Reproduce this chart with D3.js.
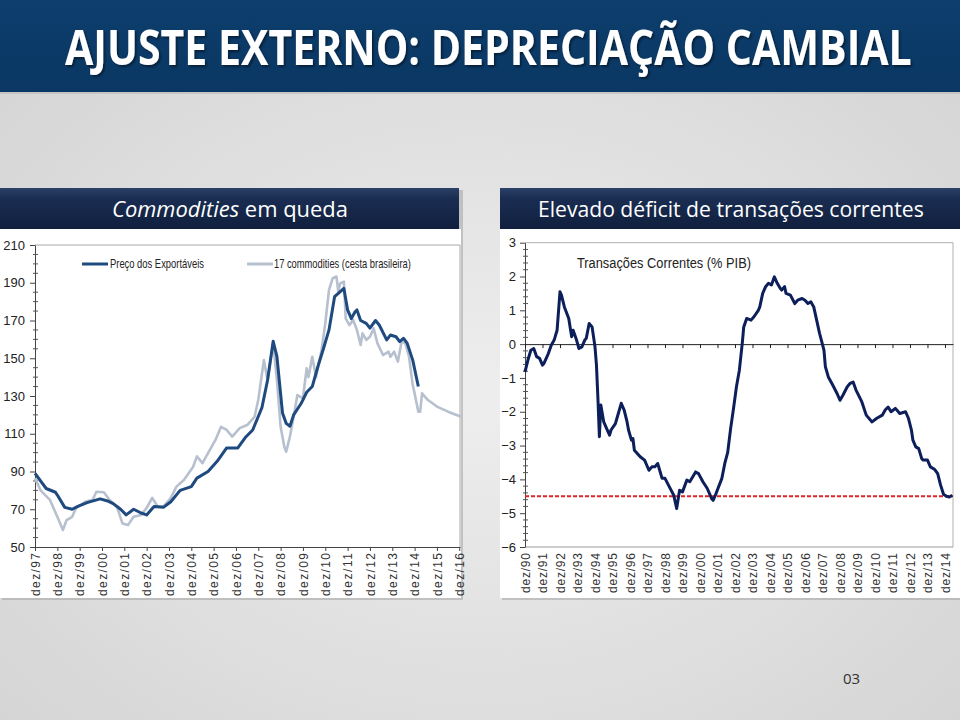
<!DOCTYPE html>
<html><head><meta charset="utf-8">
<script src="https://cdn.jsdelivr.net/npm/d3@7"></script>
<style>html,body{margin:0;padding:0;background:#dcdcdc;overflow:hidden}</style>
</head><body><svg id="c" width="960" height="720"></svg>
<script>
// ---------------- DATA ----------------
const slideTitle = "AJUSTE EXTERNO: DEPRECIAÇÃO CAMBIAL";
const pageNumber = "03";

// Left chart: Commodities em queda
const leftYTicks = [50, 70, 90, 110, 130, 150, 170, 190, 210];
const leftYearLabels = ["dez/97","dez/98","dez/99","dez/00","dez/01","dez/02","dez/03","dez/04","dez/05","dez/06",
  "dez/07","dez/08","dez/09","dez/10","dez/11","dez/12","dez/13","dez/14","dez/15","dez/16"];
const seriesNames = ["Preço dos Exportáveis", "17 commodities (cesta brasileira)"];

const exportDates = ["1997-12","1998-06","1998-11","1998-12","1999-04","1999-08","1999-11","2000-04","2000-11","2001-03",
  "2001-06","2001-10","2002-01","2002-05","2002-09","2002-12","2003-04","2003-09","2004-01","2004-06",
  "2004-12","2005-03","2005-09","2006-02","2006-07","2007-01","2007-05","2007-09","2008-02","2008-05",
  "2008-08","2008-10","2009-01","2009-03","2009-05","2009-07","2009-11","2010-02","2010-05","2010-08",
  "2010-11","2011-02","2011-05","2011-07","2011-10","2011-12","2012-02","2012-04","2012-05","2012-07",
  "2012-10","2012-12","2013-03","2013-05","2013-09","2013-11","2014-02","2014-04","2014-06","2014-08",
  "2014-11","2015-02"];
const exportValues = [89,81,79,77.5,71,70,71.5,73.5,75.5,74.4,
  73,70,67,70,68,67,71.5,71,74,80,
  82,86.5,90,95.5,102.5,102.5,108,112,124,138.5,
  159,151,121,115.5,114,120,126,132,135,145.5,
  155,165,182.6,184.4,187,175.6,171,174.6,175.6,170,
  168.5,166,170,167.6,159.7,162.3,161.4,158.8,160.6,158,
  149,135];

const commodDates = ["1997-12","1998-03","1998-08","1998-12","1999-03","1999-05","1999-08","1999-10","2000-03","2000-07",
  "2000-09","2001-01","2001-04","2001-08","2001-11","2002-02","2002-05","2002-09","2002-12","2003-03",
  "2003-06","2003-09","2004-01","2004-04","2004-08","2005-01","2005-03","2005-06","2005-09","2006-01",
  "2006-04","2006-07","2006-10","2007-02","2007-06","2007-10","2007-12","2008-03","2008-05","2008-08",
  "2008-10","2008-12","2009-02","2009-03","2009-05","2009-07","2009-09","2009-12","2010-02","2010-03",
  "2010-05","2010-07","2010-10","2010-12","2011-02","2011-04","2011-06","2011-07","2011-08","2011-10",
  "2011-11","2012-01","2012-03","2012-05","2012-07","2012-08","2012-10","2012-12","2013-02","2013-04",
  "2013-07","2013-10","2013-11","2014-01","2014-03","2014-05","2014-07","2014-09","2014-11","2014-12",
  "2015-02","2015-03","2015-04","2015-07","2015-12","2016-06","2017-01"];
const commodValues = [86.5,80,75,66,59,64.3,66,70.5,74,75,
  79.3,79,75,71.4,62.5,61.6,66,67,70.7,76,
  71.4,71.4,76,82,85.5,92.5,98,94.4,99.7,106.7,
  113.7,112,108.5,113,114.6,119,128,149,138.5,158,
  138.5,113.7,103,100.5,108.5,119,130.5,128.8,144.7,140,
  150.8,140,154.4,168.5,186.2,192.4,193.3,185.3,189.7,190.6,
  171,167.6,170.3,165,157,163.2,159.7,161.4,165.8,158,
  151.7,153.5,150.8,153.5,148.2,158.8,158,150.8,135.8,131.4,
  121.7,121.7,131.4,128,124.4,121.7,119];

// Right chart: Transações Correntes (% PIB)
const rightYTicks = [-6,-5,-4,-3,-2,-1,0,1,2,3];
const rightYearLabels = ["dez/90","dez/91","dez/92","dez/93","dez/94","dez/95","dez/96","dez/97","dez/98","dez/99",
  "dez/00","dez/01","dez/02","dez/03","dez/04","dez/05","dez/06","dez/07","dez/08","dez/09",
  "dez/10","dez/11","dez/12","dez/13","dez/14"];
const tcLabel = "Transações Correntes (% PIB)";
const tcReference = -4.5;
const tcDates = ["1990-12","1991-02","1991-04","1991-06","1991-08","1991-10","1991-12","1992-01","1992-04","1992-06",
  "1992-08","1992-10","1992-12","1993-01","1993-03","1993-06","1993-08","1993-09","1993-11","1994-01",
  "1994-03","1994-05","1994-06","1994-08","1994-10","1994-12","1995-01","1995-02","1995-03","1995-04",
  "1995-06","1995-08","1995-10","1995-11","1996-02","1996-03","1996-06","1996-08","1996-10","1996-11",
  "1997-01","1997-02","1997-03","1997-07","1997-10","1997-11","1998-01","1998-03","1998-05","1998-07",
  "1998-10","1998-12","1999-03","1999-06","1999-08","1999-10","1999-12","2000-03","2000-05","2000-09",
  "2000-11","2001-02","2001-05","2001-08","2001-09","2001-11","2002-03","2002-05","2002-07","2002-09",
  "2002-11","2003-01","2003-03","2003-05","2003-06","2003-08","2003-11","2004-01","2004-04","2004-05",
  "2004-07","2004-09","2004-11","2005-01","2005-03","2005-05","2005-07","2005-08","2005-10","2005-11",
  "2006-02","2006-05","2006-07","2006-10","2006-12","2007-02","2007-04","2007-06","2007-08","2007-10",
  "2008-01","2008-02","2008-04","2008-07","2008-10","2008-12","2009-02","2009-05","2009-07","2009-09",
  "2009-11","2010-03","2010-06","2010-10","2011-01","2011-05","2011-07","2011-09","2011-11","2012-02",
  "2012-05","2012-09","2012-11","2013-01","2013-02","2013-04","2013-06","2013-08","2013-09","2013-12",
  "2014-02","2014-05","2014-07","2014-09","2014-11","2015-01","2015-03","2015-05"];
const tcValues = [-0.82,-0.47,-0.18,-0.13,-0.37,-0.42,-0.62,-0.57,-0.28,-0.03,
  0.12,0.41,1.55,1.45,1.1,0.76,0.22,0.41,0.17,-0.13,
  -0.08,0.12,0.17,0.61,0.51,-0.08,-0.62,-1.6,-2.74,-1.8,
  -2.3,-2.5,-2.69,-2.54,-2.35,-2.2,-1.75,-1.95,-2.3,-2.54,
  -2.84,-2.79,-3.14,-3.33,-3.43,-3.53,-3.73,-3.63,-3.63,-3.53,
  -3.97,-3.97,-4.22,-4.47,-4.86,-4.32,-4.37,-4.02,-4.07,-3.78,
  -3.83,-4.07,-4.27,-4.57,-4.62,-4.42,-3.97,-3.53,-3.2,-2.5,
  -1.9,-1.26,-0.77,0.03,0.51,0.76,0.71,0.81,1.0,1.1,
  1.5,1.7,1.8,1.75,1.99,1.8,1.65,1.6,1.7,1.5,
  1.45,1.2,1.3,1.35,1.3,1.2,1.25,1.1,0.71,0.32,
  -0.18,-0.67,-0.97,-1.21,-1.46,-1.66,-1.51,-1.26,-1.16,-1.12,
  -1.36,-1.71,-2.1,-2.3,-2.2,-2.1,-1.95,-1.86,-2.0,-1.9,
  -2.05,-2.0,-2.2,-2.54,-2.84,-3.04,-3.09,-3.38,-3.43,-3.43,
  -3.63,-3.71,-3.83,-4.17,-4.44,-4.5,-4.52,-4.47];

// ---------------- HELPERS ----------------
function mi(s){ const p = s.split("-"); return (+p[0]) * 12 + (+p[1] - 1); }
function labelMonth(l){ const yy = +l.slice(4); return mi((yy > 50 ? 1900 + yy : 2000 + yy) + "-12"); }
function fitX(sel, x, w){
  const cw = sel.node().getComputedTextLength();
  const s = w / cw;
  sel.attr("transform", `translate(${x},0) scale(${s},1) translate(${-x},0)`);
}
const chartFont = "'Liberation Sans Narrow','Arial Narrow','Liberation Sans',Arial,sans-serif";
const slideFont = "'Open Sans','Noto Sans',sans-serif";

const svg = d3.select("#c");
const defs = svg.append("defs");

const bg = defs.append("radialGradient").attr("id","bg").attr("cx","50%").attr("cy","55%").attr("r","75%");
bg.append("stop").attr("offset","0%").attr("stop-color","#eeeeee");
bg.append("stop").attr("offset","100%").attr("stop-color","#d2d2d2");

const hg = defs.append("linearGradient").attr("id","hdr").attr("x1",0).attr("y1",0).attr("x2",0).attr("y2",1);
hg.append("stop").attr("offset","0%").attr("stop-color","#2c4168");
hg.append("stop").attr("offset","25%").attr("stop-color","#1a2d52");
hg.append("stop").attr("offset","100%").attr("stop-color","#101f3d");

const tg = defs.append("linearGradient").attr("id","ttl").attr("x1",0).attr("y1",0).attr("x2",0).attr("y2",1);
tg.append("stop").attr("offset","0%").attr("stop-color","#0d3e6d");
tg.append("stop").attr("offset","100%").attr("stop-color","#0a3763");

const sh = defs.append("filter").attr("id","tshadow").attr("x","-5%").attr("y","-20%").attr("width","110%").attr("height","150%");
sh.append("feDropShadow").attr("dx",2).attr("dy",2).attr("stdDeviation",1.2).attr("flood-color","#000").attr("flood-opacity",0.45);

// ---------------- SLIDE ----------------
svg.append("rect").attr("width",960).attr("height",720).attr("fill","url(#bg)");
svg.append("rect").attr("x",0).attr("y",91).attr("width",960).attr("height",3).attr("fill","#b8b8b8").attr("opacity",0.6);
svg.append("rect").attr("width",960).attr("height",92).attr("fill","url(#ttl)");

svg.append("text").attr("x",65).attr("y",65).text(slideTitle)
  .attr("font-family",slideFont).attr("font-weight",700).attr("font-size",48)
  .attr("fill","#ffffff").attr("filter","url(#tshadow)").call(s=>fitX(s,65,847));

// Panel shadows and panels
svg.append("rect").attr("x",2).attr("y",190).attr("width",461).attr("height",410).attr("fill","#a9a9a9").attr("opacity",0.6);
svg.append("rect").attr("x",502).attr("y",190).attr("width",460).attr("height",410).attr("fill","#a9a9a9").attr("opacity",0.6);
svg.append("rect").attr("x",0).attr("y",229).attr("width",461).attr("height",369).attr("fill","#ffffff");
svg.append("rect").attr("x",500).attr("y",229).attr("width",460).attr("height",369).attr("fill","#ffffff");

// Headers
svg.append("rect").attr("x",0).attr("y",188).attr("width",459).attr("height",41).attr("fill","url(#hdr)");
svg.append("rect").attr("x",500).attr("y",188).attr("width",460).attr("height",41).attr("fill","url(#hdr)");

const h1 = svg.append("text").attr("x",112).attr("y",217)
  .attr("font-family",slideFont).attr("font-size",21).attr("fill","#ffffff");
h1.append("tspan").attr("font-style","italic").text("Commodities");
h1.append("tspan").text(" em queda");
fitX(h1,112,236);

svg.append("text").attr("x",538).attr("y",217).text("Elevado déficit de transações correntes")
  .attr("font-family",slideFont).attr("font-size",21).attr("fill","#ffffff").call(s=>fitX(s,538,386));

svg.append("text").attr("x",843).attr("y",684).text(pageNumber)
  .attr("font-family",slideFont).attr("font-size",15).attr("fill","#333");

// ---------------- LEFT CHART ----------------
const xL = d3.scaleLinear().domain([mi("1997-12"), mi("1997-12") + 228.4]).range([35, 460]);
const yL = d3.scaleLinear().domain([50, 210]).range([547, 245]);
const gL = svg.append("g");

gL.append("line").attr("x1",35).attr("x2",460).attr("y1",245).attr("y2",245).attr("stroke","#a8a8a8");
gL.append("line").attr("x1",460).attr("x2",460).attr("y1",245).attr("y2",547).attr("stroke","#a8a8a8");

const yAxL = gL.append("g").attr("transform","translate(35,0)")
  .call(d3.axisLeft(yL).tickValues(leftYTicks).tickSize(5).tickSizeOuter(0).tickPadding(5).tickFormat(d3.format("d")));
yAxL.selectAll("path,line").attr("stroke","#444");
yAxL.selectAll("text").attr("font-family",chartFont).attr("font-size",13).attr("fill","#222");
const minorL = d3.range(50, 211, 5).filter(v => (v - 50) % 20 !== 0);
gL.append("g").selectAll("line").data(minorL).join("line")
  .attr("x1",33).attr("x2",38).attr("y1",d=>yL(d)).attr("y2",d=>yL(d)).attr("stroke","#555");

const xAxL = gL.append("g").attr("transform","translate(0,547)")
  .call(d3.axisBottom(xL).tickValues(leftYearLabels.map(labelMonth)).tickSize(4).tickSizeOuter(0)
    .tickFormat((d,i)=>leftYearLabels[i]));
xAxL.selectAll("path,line").attr("stroke","#444");
xAxL.selectAll("text").attr("font-family","'Liberation Sans',Arial,sans-serif").attr("font-size",12).attr("fill","#333")
  .attr("transform","rotate(-90)").attr("text-anchor","end").attr("x",-6).attr("y",0).attr("dy","0.36em")
  .attr("textLength",43).attr("lengthAdjust","spacing");

const lineL = d3.line().x(d=>xL(mi(d[0]))).y(d=>yL(d[1]));
gL.append("path").datum(commodDates.map((d,i)=>[d,commodValues[i]]))
  .attr("d",lineL).attr("fill","none").attr("stroke","#b7c0cf").attr("stroke-width",2.6).attr("stroke-linejoin","round");
gL.append("path").datum(exportDates.map((d,i)=>[d,exportValues[i]]))
  .attr("d",lineL).attr("fill","none").attr("stroke","#1f4a7f").attr("stroke-width",3).attr("stroke-linejoin","round");

// legend
gL.append("line").attr("x1",82).attr("x2",108).attr("y1",264).attr("y2",264).attr("stroke","#1f4a7f").attr("stroke-width",3);
gL.append("text").attr("x",110).attr("y",268.5).text(seriesNames[0])
  .attr("font-family",chartFont).attr("font-size",12.5).attr("fill","#222").call(s=>fitX(s,110,94));
gL.append("line").attr("x1",247).attr("x2",273).attr("y1",264).attr("y2",264).attr("stroke","#b7c0cf").attr("stroke-width",3);
gL.append("text").attr("x",274).attr("y",268.5).text(seriesNames[1])
  .attr("font-family",chartFont).attr("font-size",12.5).attr("fill","#222").call(s=>fitX(s,274,137));

// ---------------- RIGHT CHART ----------------
const xR = d3.scaleLinear().domain([mi("1990-12"), mi("1990-12") + 293.5]).range([525, 953]);
const yR = d3.scaleLinear().domain([-6, 3]).range([547, 242.7]);
const gR = svg.append("g");

gR.append("line").attr("x1",525).attr("x2",953).attr("y1",242.7).attr("y2",242.7).attr("stroke","#b0b0b0");
gR.append("line").attr("x1",953).attr("x2",953).attr("y1",242.7).attr("y2",547).attr("stroke","#b0b0b0");
gR.append("line").attr("x1",525).attr("x2",953).attr("y1",547).attr("y2",547).attr("stroke","#9a9a9a");

const yAxR = gR.append("g").attr("transform","translate(525,0)")
  .call(d3.axisLeft(yR).tickValues(rightYTicks).tickSize(5).tickSizeOuter(0).tickPadding(4).tickFormat(d3.format("d")));
yAxR.selectAll("path,line").attr("stroke","#444");
yAxR.selectAll("text").attr("font-family",chartFont).attr("font-size",13).attr("fill","#222");
const minorR = d3.range(-60, 31, 2).filter(v => v % 10 !== 0).map(v => v / 10);
gR.append("g").selectAll("line").data(minorR).join("line")
  .attr("x1",523).attr("x2",528).attr("y1",d=>yR(d)).attr("y2",d=>yR(d)).attr("stroke","#555");

// zero line with year ticks
const zAx = gR.append("g").attr("transform",`translate(0,${yR(0)})`)
  .call(d3.axisBottom(xR).tickValues(rightYearLabels.map(labelMonth)).tickSize(4).tickSizeOuter(0).tickFormat(""));
zAx.selectAll("path,line").attr("stroke","#222");

const xAxR = gR.append("g").attr("transform","translate(0,547)")
  .call(d3.axisBottom(xR).tickValues(rightYearLabels.map(labelMonth)).tickSize(0).tickSizeOuter(0)
    .tickFormat((d,i)=>rightYearLabels[i]));
xAxR.select("path").remove();
xAxR.selectAll("text").attr("font-family","'Liberation Sans',Arial,sans-serif").attr("font-size",12).attr("fill","#333")
  .attr("transform","rotate(-90)").attr("text-anchor","end").attr("x",-6).attr("y",0).attr("dy","0.36em")
  .attr("textLength",40).attr("lengthAdjust","spacing");

gR.append("line").attr("x1",525).attr("x2",953).attr("y1",yR(tcReference)).attr("y2",yR(tcReference))
  .attr("stroke","#e0242a").attr("stroke-width",2).attr("stroke-dasharray","4,2");

const lineR = d3.line().x(d=>xR(mi(d[0]))).y(d=>yR(d[1]));
gR.append("path").datum(tcDates.map((d,i)=>[d,tcValues[i]]))
  .attr("d",lineR).attr("fill","none").attr("stroke","#0c1f5b").attr("stroke-width",3).attr("stroke-linejoin","round");

gR.append("text").attr("x",577).attr("y",268.5).text(tcLabel)
  .attr("font-family",chartFont).attr("font-size",15.5).attr("fill","#222").call(s=>fitX(s,577,174));
</script></body></html>
